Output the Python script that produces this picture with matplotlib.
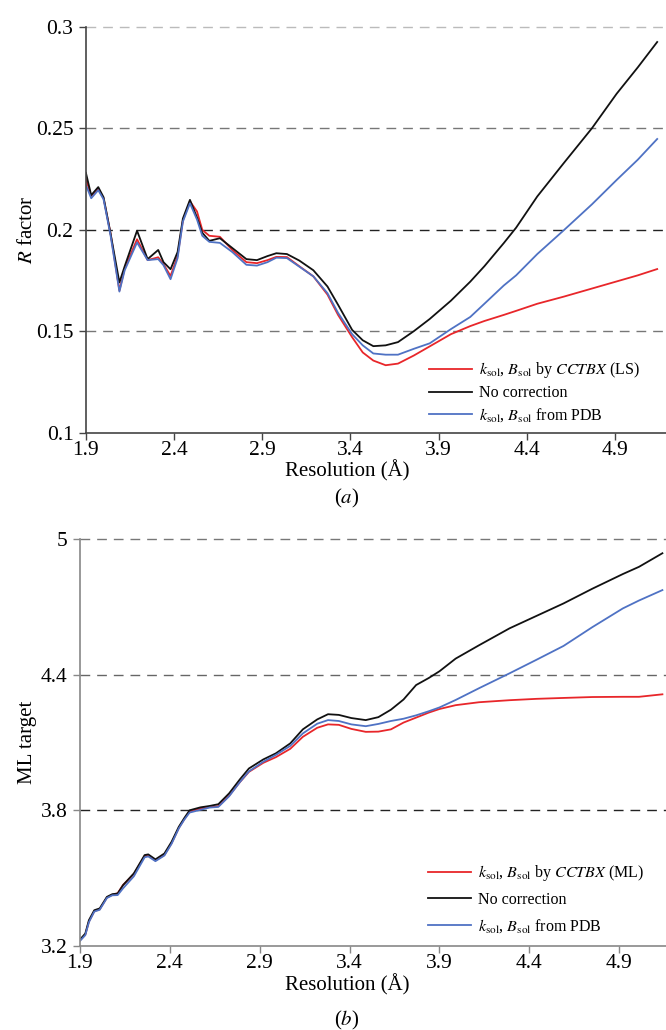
import numpy as np
import matplotlib.pyplot as plt

plt.rcParams['font.family'] = ['Liberation Serif', 'DejaVu Serif']
plt.rcParams['mathtext.fontset'] = 'stix'

# ---- panel (a): R factor vs resolution ----
res_a = [1.90, 1.93, 1.97, 2.00, 2.04, 2.09, 2.12, 2.19, 2.25, 2.31, 2.34, 2.38,
         2.42, 2.45, 2.49, 2.53, 2.56, 2.60, 2.66, 2.73, 2.81, 2.87, 2.93, 2.98,
         3.04, 3.11, 3.19, 3.27, 3.33, 3.41, 3.47, 3.53, 3.60, 3.67, 3.76, 3.85,
         3.97, 4.08, 4.16, 4.27, 4.34, 4.46, 4.61, 4.77, 4.91, 5.03, 5.14]
r_ls = [0.225, 0.2165, 0.220, 0.2155, 0.198, 0.170, 0.181, 0.1953, 0.185, 0.1864,
        0.183, 0.1772, 0.187, 0.2045, 0.214, 0.209, 0.1999, 0.197, 0.1965, 0.190,
        0.184, 0.1835, 0.185, 0.1866, 0.1865, 0.182, 0.177, 0.168, 0.158, 0.147,
        0.1395, 0.1355, 0.1332, 0.134, 0.138, 0.1425, 0.1485, 0.1525, 0.155, 0.158,
        0.160, 0.1635, 0.167, 0.171, 0.1745, 0.1775, 0.1806]
r_none = [0.228, 0.217, 0.221, 0.216, 0.198, 0.174, 0.182, 0.1995, 0.1855, 0.190,
          0.184, 0.1805, 0.189, 0.2055, 0.2147, 0.206, 0.1985, 0.1945, 0.1958, 0.191,
          0.1855, 0.185, 0.187, 0.1884, 0.188, 0.1848, 0.180, 0.172, 0.163, 0.1506,
          0.1455, 0.1426, 0.143, 0.1446, 0.150, 0.156, 0.165, 0.1744, 0.182, 0.1934,
          0.201, 0.2164, 0.2328, 0.250, 0.267, 0.280, 0.2925]
r_pdb = [0.222, 0.2155, 0.2195, 0.215, 0.197, 0.1695, 0.180, 0.1937, 0.185, 0.1855,
         0.1825, 0.1756, 0.186, 0.204, 0.213, 0.205, 0.197, 0.194, 0.1935, 0.189,
         0.1827, 0.1823, 0.184, 0.1862, 0.186, 0.1818, 0.177, 0.1687, 0.159, 0.1485,
         0.143, 0.139, 0.1384, 0.1384, 0.1413, 0.144, 0.151, 0.157, 0.1635, 0.1725,
         0.1775, 0.188, 0.1997, 0.2125, 0.2245, 0.2345, 0.2447]

# ---- panel (b): ML target vs resolution ----
res_b = [1.90, 1.93, 1.95, 1.98, 2.01, 2.05, 2.08, 2.11, 2.14, 2.20, 2.26, 2.28,
         2.32, 2.37, 2.41, 2.45, 2.48, 2.51, 2.57, 2.62, 2.67, 2.73, 2.79, 2.84,
         2.92, 2.99, 3.07, 3.14, 3.22, 3.28, 3.34, 3.41, 3.49, 3.56, 3.63, 3.70,
         3.77, 3.84, 3.90, 3.99, 4.12, 4.29, 4.44, 4.59, 4.75, 4.92, 5.01, 5.14]
ml_ml = [3.225, 3.250, 3.308, 3.354, 3.362, 3.414, 3.426, 3.433, 3.470, 3.518,
         3.598, 3.600, 3.578, 3.603, 3.655, 3.722, 3.760, 3.795, 3.808, 3.814,
         3.818, 3.865, 3.925, 3.970, 4.010, 4.035, 4.072, 4.125, 4.165, 4.180,
         4.178, 4.160, 4.147, 4.148, 4.158, 4.188, 4.210, 4.232, 4.248, 4.265,
         4.278, 4.287, 4.293, 4.297, 4.301, 4.302, 4.302, 4.313]
ml_none = [3.228, 3.255, 3.314, 3.358, 3.366, 3.417, 3.429, 3.432, 3.469, 3.521,
           3.602, 3.605, 3.583, 3.609, 3.661, 3.727, 3.765, 3.800, 3.813, 3.819,
           3.827, 3.875, 3.937, 3.985, 4.025, 4.052, 4.096, 4.158, 4.202, 4.225,
           4.222, 4.208, 4.199, 4.212, 4.245, 4.290, 4.354, 4.385, 4.415, 4.471,
           4.530, 4.605, 4.660, 4.715, 4.780, 4.845, 4.877, 4.937]
ml_pdb = [3.222, 3.248, 3.305, 3.352, 3.360, 3.412, 3.424, 3.425, 3.455, 3.508,
          3.592, 3.596, 3.575, 3.600, 3.652, 3.720, 3.758, 3.790, 3.802, 3.812,
          3.815, 3.862, 3.925, 3.972, 4.015, 4.045, 4.085, 4.140, 4.183, 4.199,
          4.195, 4.180, 4.172, 4.182, 4.195, 4.205, 4.220, 4.238, 4.255, 4.288,
          4.340, 4.406, 4.466, 4.527, 4.610, 4.693, 4.728, 4.774]

xticks = [1.9, 2.4, 2.9, 3.4, 3.9, 4.4, 4.9]
yticks_a = [0.1, 0.15, 0.2, 0.25, 0.3]
ylabels_a = ['0.1', '0.15', '0.2', '0.25', '0.3']
yticks_b = [3.2, 3.8, 4.4, 5.0]
ylabels_b = ['3.2', '3.8', '4.4', '5']

RED = '#e8262a'
BLUE = '#4f72c4'
BLACK = '#111111'

fig = plt.figure(figsize=(6.66, 10.30), dpi=100)
ax_a = fig.add_axes([0.129, 0.580, 0.871, 0.394])
ax_b = fig.add_axes([0.120, 0.0816, 0.880, 0.3951])


def style_axis(ax, yt, ylab, xmax, spine_col, grid_cols, xlab_x):
    ax.set_xlim(1.9, xmax)
    ax.set_ylim(yt[0], yt[-1])
    for s in ['top', 'right']:
        ax.spines[s].set_visible(False)
    for s in ['left', 'bottom']:
        ax.spines[s].set_color(spine_col)
        ax.spines[s].set_linewidth(1.2)
    ax.set_xticks(xticks)
    ax.set_xticklabels([f'{t:.1f}' for t in xticks])
    ax.set_yticks(yt)
    ax.set_yticklabels(ylab)
    ax.tick_params(direction='out', length=5, width=1.0, color=spine_col,
                   labelsize=15.5)
    ax.tick_params(axis='y', pad=4)
    ax.tick_params(axis='x', pad=1)
    for v, c in zip(yt[1:], grid_cols):
        ax.axhline(v, color=c, lw=1.0, ls=(0, (7, 5)), zorder=0, clip_on=False)
    ax.set_xlabel('Resolution (Å)', fontsize=15)
    ax.xaxis.set_label_coords(xlab_x, -0.068)


def add_legend(ax, anchor, spacing):
    ax.legend(loc='lower left', bbox_to_anchor=anchor, frameon=False,
              borderpad=0, borderaxespad=0, fontsize=11.5, handlelength=2.7,
              handletextpad=0.45, labelspacing=spacing)


style_axis(ax_a, yticks_a, ylabels_a, 5.19, '#444444',
           ['#777777', '#222222', '#777777', '#bbbbbb'], 0.45)
ax_a.plot(res_a, r_ls, color=RED, lw=1.3,
          label=r'$k_{\rm sol}$, $B_{\rm sol}$ by $CCTBX$ (LS)')
ax_a.plot(res_a, r_none, color=BLACK, lw=1.3, label='No correction')
ax_a.plot(res_a, r_pdb, color=BLUE, lw=1.3,
          label=r'$k_{\rm sol}$, $B_{\rm sol}$ from PDB')
ax_a.set_ylabel(r'$R$ factor', fontsize=15)
ax_a.yaxis.set_label_coords(-0.084, 0.5)
add_legend(ax_a, (0.591, 0.022), 0.3)

style_axis(ax_b, yticks_b, ylabels_b, 5.16, '#888888',
           ['#222222', '#666666', '#777777'], 0.456)
ax_b.plot(res_b, ml_ml, color=RED, lw=1.3,
          label=r'$k_{\rm sol}$, $B_{\rm sol}$ by $CCTBX$ (ML)')
ax_b.plot(res_b, ml_none, color=BLACK, lw=1.3, label='No correction')
ax_b.plot(res_b, ml_pdb, color=BLUE, lw=1.3,
          label=r'$k_{\rm sol}$, $B_{\rm sol}$ from PDB')
ax_b.set_ylabel('ML target', fontsize=15)
ax_b.yaxis.set_label_coords(-0.073, 0.5)
add_legend(ax_b, (0.594, 0.028), 0.55)

fig.text(347 / 666, 1 - 498 / 1030, r'($a$)', ha='center', va='center', fontsize=15)
fig.text(347 / 666, 1 - 1020 / 1030, r'($b$)', ha='center', va='center', fontsize=15)

fig.savefig('out.png', dpi=100)
